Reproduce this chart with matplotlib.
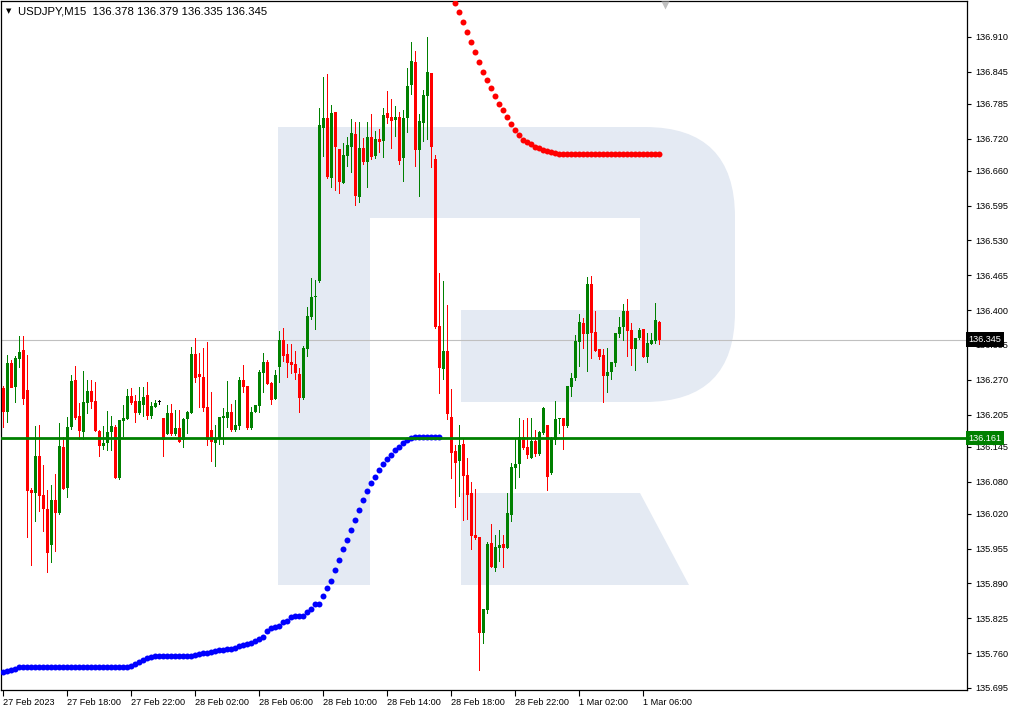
import matplotlib
matplotlib.use("Agg")
import matplotlib.pyplot as plt
from matplotlib.path import Path
from matplotlib.patches import PathPatch, Polygon, Rectangle

# USDJPY M15 candles (oldest first)
opens = [136.255, 136.210, 136.301, 136.257, 136.309, 136.326, 136.251, 136.064, 136.058, 136.128,
         136.055, 136.029, 135.962, 136.046, 136.021, 136.145, 136.068, 136.182, 136.270, 136.203,
         136.172, 136.226, 136.249, 136.230, 136.174, 136.147, 136.152, 136.172, 136.182, 136.087,
         136.193, 136.197, 136.240, 136.230, 136.208, 136.223, 136.242, 136.203, 136.219, 136.228,
         136.199, 136.169, 136.208, 136.169, 136.180, 136.158, 136.197, 136.208, 136.318, 136.281,
         136.275, 136.219, 136.176, 136.152, 136.161, 136.199, 136.199, 136.210, 136.176, 136.184,
         136.270, 136.259, 136.180, 136.210, 136.221, 136.283, 136.303, 136.264, 136.234, 136.294,
         136.344, 136.318, 136.303, 136.300, 136.281, 136.236, 136.328, 136.387, 136.425, 136.455,
         136.740, 136.759, 136.647, 136.770, 136.701, 136.637, 136.688, 136.705, 136.729, 136.611,
         136.703, 136.677, 136.723, 136.688, 136.720, 136.716, 136.768, 136.761, 136.755, 136.761,
         136.684, 136.759, 136.820, 136.863, 136.699, 136.749, 136.800, 136.843, 136.682, 136.371,
         136.290, 136.324, 136.201, 136.137, 136.119, 136.150, 136.093, 136.059, 135.981, 135.977,
         135.798, 135.840, 135.966, 135.919, 135.956, 135.964, 135.956, 136.018, 136.105, 136.113,
         136.163, 136.145, 136.124, 136.156, 136.132, 136.171, 136.186, 136.096, 136.158, 136.197,
         136.199, 136.184, 136.257, 136.273, 136.341, 136.376, 136.356, 136.449, 136.359, 136.328,
         136.316, 136.277, 136.285, 136.301, 136.356, 136.369, 136.399, 136.363, 136.328, 136.348,
         136.365, 136.313, 136.337, 136.343, 136.378]
highs = [136.259, 136.317, 136.307, 136.315, 136.351, 136.351, 136.317, 136.068, 136.184, 136.186,
         136.111, 136.064, 136.074, 136.095, 136.189, 136.163, 136.201, 136.279, 136.296, 136.226,
         136.286, 136.270, 136.270, 136.266, 136.176, 136.184, 136.212, 136.203, 136.186, 136.195,
         136.223, 136.253, 136.255, 136.242, 136.257, 136.257, 136.266, 136.228, 136.232, 136.232,
         136.199, 136.223, 136.225, 136.214, 136.214, 136.199, 136.212, 136.331, 136.348, 136.320,
         136.329, 136.340, 136.247, 136.186, 136.201, 136.217, 136.268, 136.225, 136.232, 136.275,
         136.298, 136.259, 136.219, 136.223, 136.288, 136.320, 136.307, 136.266, 136.288, 136.361,
         136.367, 136.337, 136.337, 136.324, 136.292, 136.333, 136.406, 136.460, 136.456, 136.777,
         136.835, 136.841, 136.783, 136.770, 136.701, 136.712, 136.723, 136.757, 136.751, 136.751,
         136.721, 136.751, 136.766, 136.734, 136.738, 136.777, 136.809, 136.794, 136.781, 136.770,
         136.774, 136.852, 136.901, 136.884, 136.766, 136.811, 136.910, 136.843, 136.690, 136.469,
         136.455, 136.410, 136.253, 136.148, 136.186, 136.161, 136.124, 136.079, 136.066, 135.977,
         135.842, 135.967, 136.001, 135.980, 135.990, 135.980, 136.059, 136.115, 136.161, 136.199,
         136.195, 136.199, 136.199, 136.176, 136.174, 136.219, 136.186, 136.163, 136.230, 136.199,
         136.199, 136.259, 136.283, 136.354, 136.393, 136.385, 136.462, 136.464, 136.399, 136.328,
         136.328, 136.329, 136.303, 136.357, 136.387, 136.412, 136.421, 136.376, 136.348, 136.367,
         136.365, 136.357, 136.357, 136.413, 136.379]
lows = [136.180, 136.189, 136.254, 136.226, 136.292, 136.223, 135.975, 135.923, 136.004, 136.023,
        135.986, 135.909, 135.928, 135.948, 136.018, 136.065, 136.049, 136.176, 136.195, 136.158,
        136.158, 136.206, 136.215, 136.172, 136.126, 136.139, 136.137, 136.137, 136.085, 136.083,
        136.163, 136.195, 136.223, 136.189, 136.204, 136.201, 136.195, 136.197, 136.217, 136.223,
        136.126, 136.167, 136.165, 136.165, 136.152, 136.143, 136.169, 136.206, 136.264, 136.217,
        136.210, 136.147, 136.117, 136.107, 136.148, 136.148, 136.180, 136.172, 136.172, 136.176,
        136.245, 136.176, 136.176, 136.208, 136.208, 136.245, 136.260, 136.223, 136.232, 136.264,
        136.303, 136.273, 136.281, 136.270, 136.208, 136.232, 136.313, 136.382, 136.363, 136.451,
        136.686, 136.645, 136.628, 136.623, 136.617, 136.636, 136.667, 136.656, 136.595, 136.600,
        136.671, 136.628, 136.680, 136.682, 136.693, 136.684, 136.748, 136.701, 136.723, 136.671,
        136.639, 136.731, 136.802, 136.667, 136.611, 136.714, 136.718, 136.665, 136.365, 136.244,
        136.270, 136.195, 136.085, 136.031, 136.051, 136.007, 136.008, 135.952, 135.971, 135.727,
        135.777, 135.833, 135.919, 135.911, 135.930, 135.919, 135.954, 136.005, 136.066, 136.087,
        136.139, 136.122, 136.122, 136.126, 136.128, 136.167, 136.063, 136.092, 136.148, 136.169,
        136.139, 136.180, 136.238, 136.268, 136.294, 136.328, 136.285, 136.309, 136.322, 136.307,
        136.226, 136.245, 136.270, 136.294, 136.348, 136.343, 136.313, 136.296, 136.287, 136.344,
        136.311, 136.301, 136.335, 136.337, 136.335]
closes = [136.210, 136.301, 136.255, 136.311, 136.322, 136.234, 136.062, 136.058, 136.128, 136.053,
          136.029, 135.946, 136.046, 136.021, 136.147, 136.066, 136.182, 136.268, 136.199, 136.174,
          136.228, 136.249, 136.228, 136.174, 136.147, 136.152, 136.172, 136.184, 136.087, 136.195,
          136.199, 136.240, 136.226, 136.208, 136.230, 136.238, 136.203, 136.221, 136.226, 136.228,
          136.158, 136.208, 136.169, 136.180, 136.154, 136.197, 136.210, 136.318, 136.273, 136.275,
          136.217, 136.158, 136.154, 136.161, 136.201, 136.203, 136.210, 136.176, 136.186, 136.270,
          136.257, 136.180, 136.210, 136.223, 136.285, 136.303, 136.262, 136.232, 136.279, 136.344,
          136.315, 136.301, 136.298, 136.283, 136.236, 136.329, 136.389, 136.425, 136.427, 136.746,
          136.759, 136.649, 136.768, 136.705, 136.639, 136.690, 136.708, 136.731, 136.613, 136.703,
          136.677, 136.723, 136.686, 136.720, 136.714, 136.764, 136.759, 136.753, 136.761, 136.678,
          136.759, 136.818, 136.865, 136.699, 136.753, 136.802, 136.845, 136.705, 136.369, 136.292,
          136.324, 136.206, 136.134, 136.115, 136.148, 136.091, 136.055, 135.979, 135.975, 135.798,
          135.842, 135.964, 135.921, 135.958, 135.962, 135.956, 136.021, 136.107, 136.113, 136.163,
          136.143, 136.130, 136.156, 136.132, 136.172, 136.217, 136.089, 136.160, 136.197, 136.199,
          136.184, 136.259, 136.273, 136.343, 136.378, 136.356, 136.449, 136.357, 136.324, 136.313,
          136.277, 136.285, 136.303, 136.357, 136.369, 136.399, 136.361, 136.328, 136.348, 136.363,
          136.313, 136.339, 136.344, 136.382, 136.345]

# Parabolic SAR dots: below price (blue) for bars 0..110, above price (red) for bars 113..164
sar_below = [135.725, 135.727, 135.729, 135.730] + [135.734] * 28 + \
            [135.736, 135.740, 135.743, 135.747, 135.751, 135.753] + [135.755] * 10 + \
            [135.757, 135.758, 135.760, 135.760, 135.762, 135.764, 135.766, 135.766, 135.768, 135.768,
             135.770, 135.773, 135.775, 135.777,
             135.778, 135.783, 135.786, 135.790, 135.802, 135.806, 135.809, 135.811, 135.817, 135.819,
             135.827, 135.830, 135.830, 135.830, 135.836, 135.842, 135.851, 135.851, 135.867, 135.882,
             135.895, 135.915, 135.934, 135.954, 135.971, 135.990, 136.008, 136.027, 136.046, 136.062,
             136.077, 136.089, 136.102, 136.113, 136.122, 136.130, 136.139, 136.145, 136.152, 136.158,
             136.161, 136.163, 136.163, 136.163, 136.163, 136.163, 136.163, 136.163]
sar_above = [136.973, 136.957, 136.938, 136.919, 136.901, 136.882, 136.863, 136.845, 136.830, 136.815,
             136.800, 136.785, 136.774, 136.761, 136.748, 136.736, 136.727, 136.718, 136.714, 136.710,
             136.705, 136.703, 136.699, 136.697, 136.695, 136.693] + [136.692] * 26
sar_above_start = 113

last_price = 136.345
level = 136.161

price_ticks = [136.910, 136.845, 136.785, 136.720, 136.660, 136.595, 136.530, 136.465, 136.400, 136.335,
               136.270, 136.205, 136.145, 136.080, 136.020, 135.955, 135.890, 135.825, 135.760, 135.695]
time_ticks = [0, 16, 32, 48, 64, 80, 96, 112, 128, 144, 160]
time_labels = ["27 Feb 2023", "27 Feb 18:00", "27 Feb 22:00", "28 Feb 02:00", "28 Feb 06:00",
               "28 Feb 10:00", "28 Feb 14:00", "28 Feb 18:00", "28 Feb 22:00", "1 Mar 02:00", "1 Mar 06:00"]

W, H = 1013, 712
fig = plt.figure(figsize=(W / 100, H / 100), dpi=100)
fig.patch.set_facecolor("white")
font = ["Liberation Sans", "DejaVu Sans"]

# watermark logo behind the chart, drawn in pixel coords
bg = fig.add_axes([0, 0, 1, 1], zorder=0)
bg.set_xlim(0, W)
bg.set_ylim(H, 0)
bg.axis("off")
logo = "#e4eaf3"
bg.add_patch(Rectangle((278, 127), 92, 458, fc=logo, ec="none"))
bowl = Path([(370, 127), (645, 127), (735, 127), (735, 217), (735, 312), (735, 402), (645, 402),
             (461, 402), (461, 310), (640, 310), (640, 218), (370, 218), (370, 127)],
            [Path.MOVETO, Path.LINETO, Path.CURVE3, Path.CURVE3, Path.LINETO, Path.CURVE3, Path.CURVE3,
             Path.LINETO, Path.LINETO, Path.LINETO, Path.LINETO, Path.LINETO, Path.CLOSEPOLY])
bg.add_patch(PathPatch(bowl, fc=logo, ec="none"))
bg.add_patch(Polygon([(461, 493), (640, 493), (689, 585), (461, 585)], fc=logo, ec="none"))

# main chart area
ax = fig.add_axes([1 / W, 1 - 690 / H, 966 / W, 689 / H], zorder=1)
ax.patch.set_visible(False)
ax.set_xlim(-0.575, 240.9)
ax.set_ylim(135.691, 136.977)

green, red = "#008000", "#ff0000"
idx = list(range(len(opens)))
cols = [green if c > o else (red if c < o else "black") for o, c in zip(opens, closes)]
# wicks: 1 px wide bars, bodies: 3 px wide bars (4 px per bar slot)
ax.bar(idx, [h - l for h, l in zip(highs, lows)], bottom=lows, width=0.25, color=cols,
       linewidth=0, antialiased=False, zorder=3)
ax.bar(idx, [max(abs(c - o), 0.0019) for o, c in zip(opens, closes)],
       bottom=[min(o, c) for o, c in zip(opens, closes)], width=0.75, color=cols,
       linewidth=0, antialiased=False, zorder=3)

ax.plot(range(len(sar_below)), sar_below, "o", color="#0000ff", ms=4.3, mec="none", zorder=4)
ax.plot(range(sar_above_start, sar_above_start + len(sar_above)), sar_above, "o", color="#ff0000",
        ms=4.3, mec="none", zorder=4, clip_on=True)

ax.axhline(last_price, color="#c0c0c0", lw=0.8, zorder=2)
ax.axhline(level, color=green, lw=2, zorder=5)

# chart shift marker at the top
ax.plot([165.4], [1 - 4 / 689], marker="v", color="#c0c0c0", ms=6, mec="none",
        transform=ax.get_xaxis_transform(), clip_on=False, zorder=6)

for s in ax.spines.values():
    s.set_color("black")
    s.set_linewidth(0.9)

ax.yaxis.tick_right()
ax.set_yticks(price_ticks)
ax.set_yticklabels([f"{v:.3f}" for v in price_ticks], fontsize=6.6, family=font)
ax.tick_params(axis="y", direction="out", length=3, width=0.8, pad=3, colors="black")
ax.set_xticks(time_ticks)
ax.set_xticklabels(time_labels, fontsize=6.6, family=font, ha="left")
ax.tick_params(axis="x", direction="out", length=4, width=0.8, pad=2, colors="black")

tr = ax.get_yaxis_transform()
ax.text(1.0015, last_price, f"{last_price:.3f}", transform=tr, color="white", fontsize=6.6, family=font,
        va="center", ha="left", zorder=10, clip_on=False,
        bbox=dict(boxstyle="square,pad=0.3", fc="black", ec="none"))
ax.text(1.0015, level, f"{level:.3f}", transform=tr, color="white", fontsize=6.6, family=font,
        va="center", ha="left", zorder=10, clip_on=False,
        bbox=dict(boxstyle="square,pad=0.3", fc=green, ec="none"))

fig.text(6 / W, 1 - 11 / H, "▼", fontsize=5, family=["DejaVu Sans"], va="center", ha="left")
fig.text(18 / W, 1 - 11 / H, "USDJPY,M15  136.378 136.379 136.335 136.345", fontsize=8.2,
         family=font, va="center", ha="left")

fig.savefig("out.png", dpi=100)
